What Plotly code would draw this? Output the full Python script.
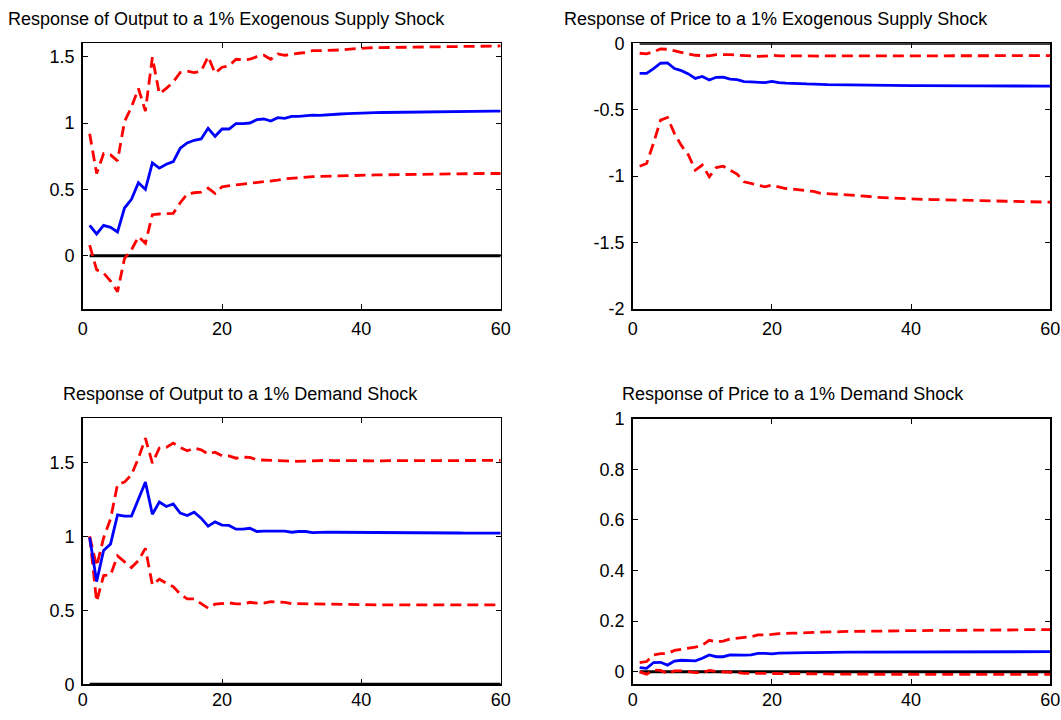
import plotly.graph_objects as go

horizon = list(range(1, 61))

titles = [
    "Response of Output to a 1% Exogenous Supply Shock",
    "Response of Price to a 1% Exogenous Supply Shock",
    "Response of Output to a 1% Demand Shock",
    "Response of Price to a 1% Demand Shock",
]

x_tick_vals = [0, 20, 40, 60]
x_tick_text = ["0", "20", "40", "60"]
y_tick_vals = [
    [0, 0.5, 1, 1.5],
    [-2, -1.5, -1, -0.5, 0],
    [0, 0.5, 1, 1.5],
    [0, 0.2, 0.4, 0.6, 0.8, 1],
]
y_tick_text = [
    ["0", "0.5", "1", "1.5"],
    ["-2", "-1.5", "-1", "-0.5", "0"],
    ["0", "0.5", "1", "1.5"],
    ["0", "0.2", "0.4", "0.6", "0.8", "1"],
]

out_supply_irf = [0.23, 0.165, 0.23, 0.215, 0.18, 0.36, 0.425, 0.55, 0.50, 0.70,
                  0.66, 0.69, 0.71, 0.81, 0.85, 0.87, 0.88, 0.96, 0.90, 0.955,
                  0.955, 0.995, 0.995, 1.0, 1.025, 1.03, 1.015, 1.04, 1.035, 1.05,
                  1.05, 1.055, 1.06, 1.058, 1.063, 1.066, 1.068, 1.07, 1.073, 1.076,
                  1.077, 1.078, 1.079, 1.08, 1.081, 1.082, 1.083, 1.084, 1.084, 1.085,
                  1.086, 1.086, 1.087, 1.087, 1.088, 1.088, 1.089, 1.089, 1.09, 1.09]
out_supply_hi = [0.92, 0.62, 0.77, 0.76, 0.715, 1.01, 1.12, 1.26, 1.09, 1.495,
                 1.22, 1.26, 1.31, 1.38, 1.39, 1.38, 1.39, 1.50, 1.375, 1.42,
                 1.43, 1.48, 1.475, 1.48, 1.50, 1.51, 1.48, 1.52, 1.51, 1.52,
                 1.525, 1.53, 1.545, 1.545, 1.545, 1.545, 1.55, 1.555, 1.56, 1.565,
                 1.566, 1.567, 1.568, 1.569, 1.57, 1.571, 1.572, 1.573, 1.574, 1.575,
                 1.576, 1.576, 1.577, 1.577, 1.578, 1.578, 1.579, 1.579, 1.58, 1.58]
out_supply_lo = [0.08, -0.105, -0.13, -0.19, -0.27, -0.02, 0.045, 0.145, 0.095, 0.31,
                 0.315, 0.315, 0.32, 0.40, 0.465, 0.475, 0.48, 0.51, 0.47, 0.52,
                 0.53, 0.535, 0.54, 0.545, 0.55, 0.555, 0.56, 0.57, 0.58, 0.585,
                 0.59, 0.593, 0.596, 0.598, 0.60, 0.602, 0.603, 0.604, 0.606, 0.607,
                 0.608, 0.609, 0.61, 0.611, 0.612, 0.613, 0.614, 0.615, 0.616, 0.617,
                 0.618, 0.618, 0.619, 0.619, 0.62, 0.62, 0.62, 0.62, 0.62, 0.62]

price_supply_irf = [-0.226, -0.226, -0.19, -0.15, -0.148, -0.19, -0.206, -0.23, -0.264, -0.25,
                    -0.276, -0.256, -0.254, -0.269, -0.274, -0.289, -0.29, -0.294, -0.296, -0.286,
                    -0.296, -0.30, -0.30, -0.303, -0.306, -0.31, -0.309, -0.311, -0.312, -0.312,
                    -0.313, -0.314, -0.315, -0.315, -0.316, -0.316, -0.317, -0.317, -0.318, -0.318,
                    -0.318, -0.319, -0.319, -0.319, -0.32, -0.32, -0.32, -0.32, -0.321, -0.321,
                    -0.321, -0.321, -0.321, -0.322, -0.322, -0.322, -0.322, -0.322, -0.322, -0.322]
price_supply_hi = [-0.075, -0.08, -0.063, -0.043, -0.045, -0.058, -0.07, -0.08, -0.09, -0.093,
                   -0.095, -0.085, -0.083, -0.085, -0.09, -0.094, -0.097, -0.098, -0.097, -0.09,
                   -0.094, -0.095, -0.095, -0.096, -0.096, -0.096, -0.096, -0.095, -0.095, -0.095,
                   -0.095, -0.095, -0.095, -0.095, -0.095, -0.095, -0.095, -0.095, -0.095, -0.095,
                   -0.095, -0.095, -0.095, -0.095, -0.095, -0.095, -0.095, -0.095, -0.095, -0.095,
                   -0.094, -0.094, -0.094, -0.094, -0.094, -0.093, -0.093, -0.093, -0.093, -0.093]
price_supply_lo = [-0.925, -0.905, -0.75, -0.578, -0.558, -0.68, -0.77, -0.84, -0.955, -0.917,
                   -1.005, -0.935, -0.925, -0.955, -0.985, -1.043, -1.055, -1.07, -1.08, -1.068,
                   -1.08, -1.093, -1.098, -1.105, -1.108, -1.115, -1.13, -1.13, -1.135, -1.138,
                   -1.141, -1.145, -1.149, -1.153, -1.16, -1.163, -1.166, -1.168, -1.171, -1.173,
                   -1.174, -1.175, -1.176, -1.177, -1.178, -1.179, -1.18, -1.181, -1.182, -1.183,
                   -1.185, -1.186, -1.188, -1.189, -1.19, -1.191, -1.192, -1.194, -1.195, -1.196]

out_demand_irf = [0.993, 0.695, 0.905, 0.95, 1.147, 1.138, 1.138, 1.248, 1.368, 1.151,
                  1.233, 1.203, 1.221, 1.158, 1.142, 1.165, 1.124, 1.07, 1.099, 1.077,
                  1.075, 1.05, 1.05, 1.056, 1.034, 1.036, 1.038, 1.036, 1.036, 1.029,
                  1.034, 1.034, 1.027, 1.03, 1.03, 1.029, 1.029, 1.028, 1.028, 1.027,
                  1.027, 1.027, 1.026, 1.026, 1.026, 1.025, 1.025, 1.025, 1.025, 1.024,
                  1.024, 1.024, 1.024, 1.024, 1.023, 1.023, 1.023, 1.023, 1.023, 1.023]
out_demand_hi = [1.0, 0.80, 0.99, 1.12, 1.354, 1.368, 1.418, 1.53, 1.666, 1.497,
                 1.598, 1.603, 1.632, 1.603, 1.58, 1.598, 1.587, 1.558, 1.571, 1.546,
                 1.546, 1.53, 1.537, 1.535, 1.519, 1.518, 1.517, 1.516, 1.512, 1.508,
                 1.51, 1.511, 1.512, 1.513, 1.515, 1.514, 1.513, 1.512, 1.512, 1.512,
                 1.512, 1.512, 1.512, 1.513, 1.513, 1.513, 1.513, 1.513, 1.514, 1.514,
                 1.514, 1.514, 1.514, 1.515, 1.515, 1.515, 1.515, 1.515, 1.515, 1.515]
out_demand_lo = [1.0, 0.56, 0.736, 0.74, 0.869, 0.83, 0.79, 0.837, 0.92, 0.673,
                 0.711, 0.684, 0.661, 0.61, 0.578, 0.578, 0.549, 0.515, 0.542, 0.549,
                 0.551, 0.544, 0.544, 0.555, 0.549, 0.55, 0.56, 0.557, 0.555, 0.546,
                 0.545, 0.545, 0.544, 0.544, 0.544, 0.543, 0.542, 0.541, 0.54, 0.539,
                 0.538, 0.538, 0.538, 0.537, 0.537, 0.537, 0.537, 0.537, 0.537, 0.537,
                 0.537, 0.537, 0.537, 0.537, 0.537, 0.537, 0.537, 0.537, 0.537, 0.537]

price_demand_irf = [0.016, 0.013, 0.036, 0.037, 0.026, 0.042, 0.045, 0.045, 0.043, 0.053,
                    0.066, 0.059, 0.059, 0.066, 0.064, 0.065, 0.066, 0.072, 0.072, 0.07,
                    0.073, 0.074, 0.074, 0.075, 0.075, 0.075, 0.076, 0.076, 0.076, 0.076,
                    0.077, 0.077, 0.077, 0.077, 0.077, 0.077, 0.077, 0.078, 0.078, 0.078,
                    0.078, 0.078, 0.078, 0.078, 0.078, 0.078, 0.078, 0.078, 0.079, 0.079,
                    0.079, 0.079, 0.079, 0.079, 0.079, 0.079, 0.079, 0.079, 0.079, 0.079]
price_demand_hi = [0.036, 0.04, 0.066, 0.071, 0.072, 0.084, 0.088, 0.092, 0.097, 0.105,
                   0.124, 0.118, 0.121, 0.129, 0.132, 0.135, 0.138, 0.145, 0.145, 0.147,
                   0.15, 0.152, 0.152, 0.153, 0.153, 0.155, 0.156, 0.156, 0.157, 0.158,
                   0.159, 0.159, 0.16, 0.16, 0.16, 0.161, 0.161, 0.161, 0.162, 0.162,
                   0.162, 0.163, 0.163, 0.163, 0.163, 0.164, 0.164, 0.164, 0.164, 0.164,
                   0.165, 0.165, 0.165, 0.165, 0.165, 0.166, 0.166, 0.166, 0.166, 0.166]
price_demand_lo = [-0.001, -0.01, 0.006, 0.005, -0.008, 0.003, 0.003, 0.0, -0.004, -0.004,
                   0.005, 0.0, -0.001, 0.0, -0.003, -0.007, -0.008, -0.007, -0.007, -0.007,
                   -0.008, -0.008, -0.008, -0.009, -0.009, -0.009, -0.009, -0.009, -0.01, -0.01,
                   -0.01, -0.01, -0.01, -0.01, -0.01, -0.01, -0.01, -0.01, -0.011, -0.011,
                   -0.011, -0.011, -0.011, -0.011, -0.011, -0.011, -0.011, -0.011, -0.011, -0.011,
                   -0.011, -0.011, -0.011, -0.011, -0.011, -0.011, -0.011, -0.011, -0.011, -0.011]

zero_line = [0.0] * 60

panels = [
    (out_supply_irf, out_supply_hi, out_supply_lo),
    (price_supply_irf, price_supply_hi, price_supply_lo),
    (out_demand_irf, out_demand_hi, out_demand_lo),
    (price_demand_irf, price_demand_hi, price_demand_lo),
]

# full-window figure; body margin is removed by a small post script
W, H = 1061, 720
FONT = "Liberation Sans, Arial, sans-serif"


def px_x(px):
    return px / W


def px_y(py):
    return 1 - py / H


# page-pixel boxes of each panel: (left, right, top, bottom)
boxes = [
    (82.7, 500.7, 43.3, 309.0),
    (632.7, 1050.3, 43.3, 309.0),
    (82.7, 500.7, 418.3, 684.3),
    (632.7, 1050.3, 418.7, 684.3),
]
yranges = [[-0.4, 1.6], [-2, 0], [0, 1.8], [-0.05, 1]]
x_standoff = [3, 3, -1, -1]
title_pos = [(6, 19), (562, 19), (61, 394), (620, 394)]

fig = go.Figure()
layout = dict(
    width=W, height=H,
    margin=dict(l=0, r=0, t=0, b=0, pad=0, autoexpand=False),
    paper_bgcolor="white", plot_bgcolor="white",
    showlegend=False,
    hovermode=False,
    font=dict(family=FONT, size=18, color="black"),
    annotations=[],
)

for i, ((irf, hi, lo), box, yr) in enumerate(zip(panels, boxes, yranges)):
    n = "" if i == 0 else str(i + 1)
    xa, ya = "x" + n, "y" + n
    fig.add_trace(go.Scatter(x=horizon, y=zero_line, mode="lines",
                             line=dict(color="black", width=3), xaxis=xa, yaxis=ya))
    fig.add_trace(go.Scatter(x=horizon, y=hi, mode="lines",
                             line=dict(color="#ff0000", width=2.8, dash="11px,6px"), xaxis=xa, yaxis=ya))
    fig.add_trace(go.Scatter(x=horizon, y=lo, mode="lines",
                             line=dict(color="#ff0000", width=2.8, dash="11px,6px"), xaxis=xa, yaxis=ya))
    fig.add_trace(go.Scatter(x=horizon, y=irf, mode="lines",
                             line=dict(color="#0000ff", width=2.8), xaxis=xa, yaxis=ya))
    l, r, t, b = box
    common = dict(showgrid=False, zeroline=False, showline=True, linecolor="black",
                  linewidth=1.5, mirror="ticks", ticks="inside", ticklen=5,
                  tickcolor="black", tickwidth=1, automargin=False,
                  tickfont=dict(family=FONT, size=18, color="black"))
    layout["xaxis" + n] = dict(domain=[px_x(l), px_x(r)], range=[0, 60],
                               tickmode="array", tickvals=x_tick_vals, ticktext=x_tick_text,
                               anchor=ya, ticklabelstandoff=x_standoff[i], **common)
    layout["yaxis" + n] = dict(domain=[px_y(b), px_y(t)], range=yr,
                               tickmode="array", tickvals=y_tick_vals[i], ticktext=y_tick_text[i],
                               anchor=xa, ticklabelstandoff=3, **common)
    tx, ty = title_pos[i]
    layout["annotations"].append(dict(
        text=titles[i], x=px_x(tx), y=px_y(ty), xref="paper", yref="paper",
        xanchor="left", yanchor="middle", showarrow=False,
        font=dict(family=FONT, size=18, color="black")))

fig.update_layout(**layout)
fig.write_html(
    "out.html",
    config={"displayModeBar": False, "staticPlot": True},
    post_script="document.body.style.margin='0';document.body.style.overflow='hidden';"
                "document.documentElement.style.overflow='hidden';",
)
